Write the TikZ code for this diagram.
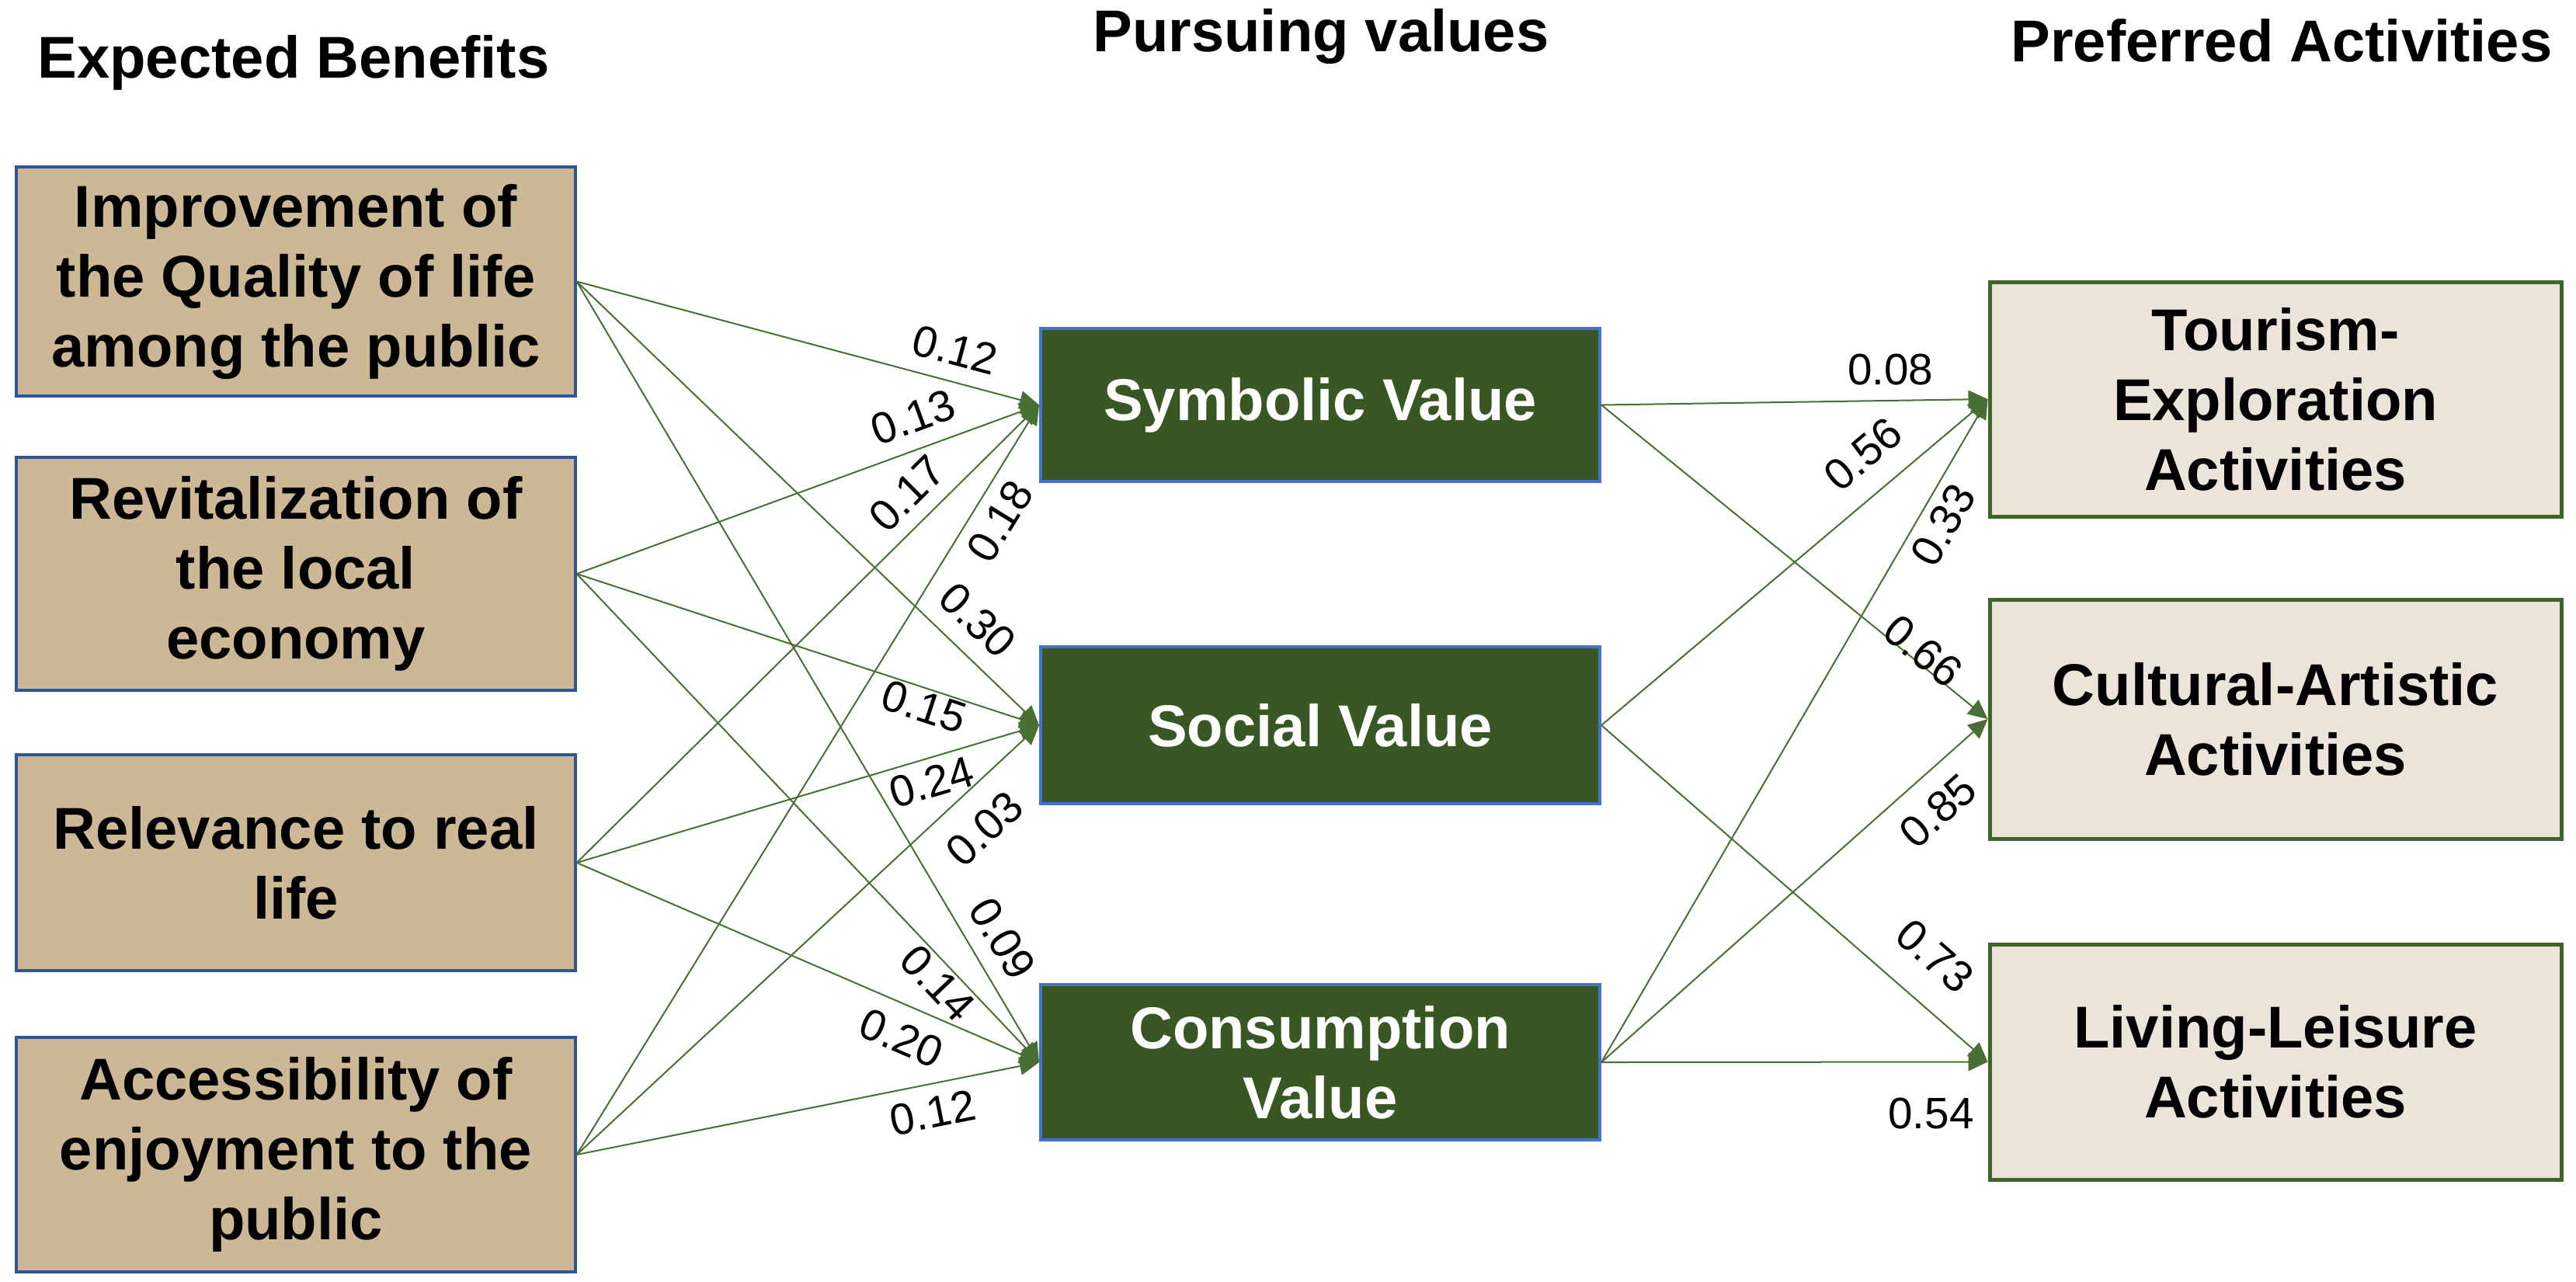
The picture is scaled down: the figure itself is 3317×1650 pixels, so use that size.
\documentclass[tikz,border=0pt]{standalone}
\usepackage{fontspec}
\setmainfont{Liberation Sans}
\usetikzlibrary{arrows.meta}
\definecolor{tanfill}{RGB}{205,184,150}
\definecolor{tanborder}{RGB}{47,85,151}
\definecolor{greenfill}{RGB}{56,87,35}
\definecolor{greenborder}{RGB}{68,114,196}
\definecolor{creamfill}{RGB}{235,229,217}
\definecolor{creamborder}{RGB}{64,99,42}
\definecolor{linkgreen}{RGB}{72,112,52}
\begin{document}
\begin{tikzpicture}[x=0.3pt,y=-0.3pt,
  boxtext/.style={font=\bfseries\fontsize{22.8}{27}\selectfont, align=center, inner sep=0pt},
  benefit/.style={boxtext, rectangle, draw=tanborder, fill=tanfill, line width=1pt, minimum width=216pt},
  valuebox/.style={boxtext, rectangle, draw=greenborder, fill=greenfill, text=white, line width=1.2pt, minimum width=216pt},
  activity/.style={boxtext, rectangle, draw=creamborder, fill=creamfill, line width=1.5pt, minimum width=220.8pt},
  heading/.style={font=\bfseries\fontsize{22.8}{27}\selectfont, anchor=base, inner sep=0pt},
  conn/.style={draw=linkgreen, line width=0.6pt, -{Triangle[length=7.5pt,width=7pt]}},
  lab/.style={font=\fontsize{17}{19}\selectfont, inner sep=0pt, anchor=center},
]
\useasboundingbox (0,0) rectangle (3317,1650);

\node[heading] (hEB) at (378,100) {Expected Benefits};
\node[heading] (hPV) at (1701,66) {Pursuing values};
\node[heading] (hPA) at (2938,79) {Preferred Activities};

\node[benefit, minimum height=88.5pt] (B1) at (381,362.5) {Improvement of\\the Quality of life\\among the public};
\node[benefit, minimum height=90pt] (B2) at (381,739) {Revitalization of\\the local\\economy};
\node[benefit, minimum height=83.4pt] (B3) at (381,1111) {Relevance to real\\life};
\node[benefit, minimum height=90.6pt] (B4) at (381,1487) {Accessibility of\\enjoyment to the\\public};

\node[valuebox, minimum height=59.1pt] (M1) at (1700,521.5) {Symbolic Value};
\node[valuebox, minimum height=60.6pt] (M2) at (1700,934) {Social Value};
\node[valuebox, minimum height=60pt] (M3) at (1700,1368) {Consumption\\Value};

\node[activity, minimum height=90.6pt] (R1) at (2930,514) {Tourism-\\Exploration\\Activities};
\node[activity, minimum height=92.4pt] (R2) at (2930,926) {Cultural-Artistic\\Activities};
\node[activity, minimum height=90.9pt] (R3) at (2930,1367.5) {Living-Leisure\\Activities};

% Expected benefits -> pursuing values
\draw[conn] (B1.east) -- (M1.west) node[lab, pos=0.801, sloped, yshift=12.2pt] (l1) {0.12};
\draw[conn] (B2.east) -- (M1.west) node[lab, pos=0.751, sloped, yshift=12.2pt] (l2) {0.13};
\draw[conn] (B3.east) -- (M1.west) node[lab, pos=0.760, sloped, yshift=11.6pt] (l3) {0.17};
\draw[conn] (B4.east) -- (M1.west) node[lab, pos=0.864, sloped, yshift=-10.7pt] (l4) {0.18};
\draw[conn] (B1.east) -- (M2.west) node[lab, pos=0.817, sloped, yshift=12.9pt] (l5) {0.30};
\draw[conn] (B2.east) -- (M2.west) node[lab, pos=0.763, sloped, yshift=-7pt] (l6) {0.15};
\draw[conn] (B3.east) -- (M2.west) node[lab, pos=0.753, sloped, yshift=-9.2pt] (l7) {0.24};
\draw[conn] (B4.east) -- (M2.west) node[lab, pos=0.825, sloped, yshift=-14.9pt] (l8) {0.03};
\draw[conn] (B1.east) -- (M3.west) node[lab, pos=0.862, sloped, yshift=12.2pt] (l9) {0.09};
\draw[conn] (B2.east) -- (M3.west) node[lab, pos=0.811, sloped, yshift=-7.4pt] (l10) {0.14};
\draw[conn] (B3.east) -- (M3.west) node[lab, pos=0.730, sloped, yshift=-12.5pt] (l11) {0.20};
\draw[conn] (B4.east) -- (M3.west) node[lab, pos=0.758, sloped, yshift=-11.1pt] (l12) {0.12};

% Pursuing values -> preferred activities
\draw[conn] (M1.east) -- (R1.west) node[lab, pos=0.748, yshift=12pt] (l13) {0.08};
\draw[conn] (M2.east) -- (R1.west) node[lab, pos=0.741, sloped, yshift=14.9pt] (l14) {0.56};
\draw[conn] (M3.east) -- (R1.west) node[lab, pos=0.829, sloped, yshift=-9.6pt] (l15) {0.33};
\draw[conn] (M1.east) -- (R2.west) node[lab, pos=0.813, sloped, yshift=4.7pt] (l16) {0.66};
\draw[conn] (M3.east) -- (R2.west) node[lab, pos=0.810, sloped, yshift=-13.7pt] (l17) {0.85};
\draw[conn] (M2.east) -- (R3.west) node[lab, pos=0.787, sloped, yshift=17.4pt] (l18) {0.73};
\draw[conn] (M3.east) -- (R3.west) node[lab, pos=0.853, yshift=-19.8pt] (l19) {0.54};
\end{tikzpicture}
\end{document}
